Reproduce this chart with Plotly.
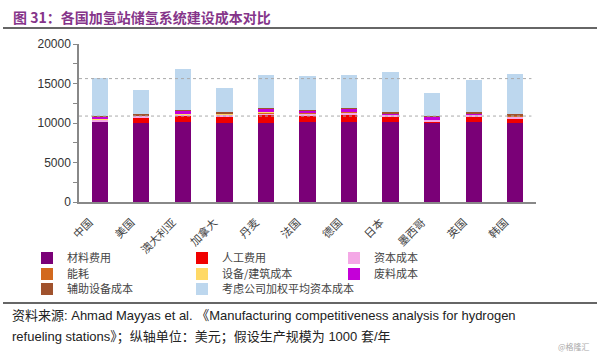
import plotly.graph_objects as go

countries = ["中国", "美国", "澳大利亚", "加拿大", "丹麦", "法国", "德国", "日本", "墨西哥", "英国", "韩国"]
material = [10180, 10000, 10180, 10000, 10000, 10180, 10180, 10180, 10100, 10180, 10000]
labor = [50, 700, 720, 850, 1100, 820, 900, 550, 80, 600, 620]
capital = [200, 200, 150, 250, 150, 250, 200, 350, 200, 300, 250]
energy = [20, 30, 40, 30, 120, 40, 150, 30, 20, 30, 30]
equipment = [10, 10, 20, 10, 20, 20, 20, 10, 10, 10, 10]
scrap = [410, 40, 500, 40, 420, 300, 400, 40, 420, 40, 40]
aux = [30, 200, 60, 220, 80, 60, 80, 220, 20, 200, 220]
wacc = [4770, 3010, 5210, 3080, 4160, 4290, 4120, 5040, 2950, 4130, 5000]
ref_lines = [15620, 10880]

series = [
    ("材料费用", material, "#7A0077"),
    ("人工费用", labor, "#F00000"),
    ("资本成本", capital, "#F4A8E6"),
    ("能耗", energy, "#D2691E"),
    ("设备/建筑成本", equipment, "#FFD966"),
    ("废料成本", scrap, "#C400D8"),
    ("辅助设备成本", aux, "#A0522D"),
    ("考虑公司加权平均资本成本", wacc, "#BDD7EE"),
]

# legend positions (px) : text-start x, row center y
leg_pos = [(65, 258), (220, 258), (372, 258),
           (65, 274), (220, 274), (372, 274),
           (65, 289), (220, 289)]

L, R, T, B = 79, 64, 44, 150
W, H = 600, 352
pw = W - L - R
ph = H - T - B

def px_x(x):
    return (x - L) / pw

def px_y(y):
    return (H - B - y) / ph

fig = go.Figure()
layout_legends = {}
for i, (name, vals, col) in enumerate(series):
    lname = "legend" if i == 0 else f"legend{i+1}"
    fig.add_trace(go.Bar(x=countries, y=vals, name=name, marker=dict(color=col, line=dict(width=0)),
                         legend=lname, showlegend=True))
    tx, ty = leg_pos[i]
    layout_legends[lname] = dict(
        x=px_x(tx - 38), y=px_y(ty), xanchor="left", yanchor="middle",
        bgcolor="rgba(0,0,0,0)", borderwidth=0,
        font=dict(family="Noto Sans CJK SC", size=11, color="#444"),
        itemwidth=30, tracegroupgap=0,
    )

for v in ref_lines:
    fig.add_shape(type="line", xref="paper", yref="y", x0=0, x1=0.99, y0=v, y1=v,
                  line=dict(color="#AAAAAA", width=1, dash="dot"))

# decorative lines
fig.add_shape(type="line", xref="paper", yref="paper", x0=px_x(3), x1=px_x(597), y0=px_y(28), y1=px_y(28),
              line=dict(color="#333333", width=1.5))
fig.add_shape(type="line", xref="paper", yref="paper", x0=px_x(3), x1=px_x(597), y0=px_y(303), y1=px_y(303),
              line=dict(color="#333333", width=1.5))

fig.add_annotation(text="<b>图 31：各国加氢站储氢系统建设成本对比</b>", xref="paper", yref="paper",
                   x=px_x(11), y=px_y(17), xanchor="left", yanchor="middle", showarrow=False,
                   font=dict(family="Noto Sans CJK SC", size=14, color="#85358A"))
fig.add_annotation(text="资料来源: Ahmad Mayyas et al. 《Manufacturing competitiveness analysis for hydrogen",
                   xref="paper", yref="paper", x=px_x(10), y=px_y(315), xanchor="left", yanchor="middle",
                   showarrow=False, font=dict(family="Liberation Sans, Noto Sans CJK SC", size=13, color="#222"))
fig.add_annotation(text="refueling stations》；纵轴单位：美元；假设生产规模为 1000 套/年",
                   xref="paper", yref="paper", x=px_x(10), y=px_y(337), xanchor="left", yanchor="middle",
                   showarrow=False, font=dict(family="Liberation Sans, Noto Sans CJK SC", size=13, color="#222"))
fig.add_annotation(text="@格隆汇", xref="paper", yref="paper", x=px_x(592), y=px_y(346),
                   xanchor="right", yanchor="middle", showarrow=False,
                   font=dict(family="Noto Sans CJK SC", size=8, color="#AAAAAA"))

fig.update_layout(
    width=W, height=H, margin=dict(l=L, r=R, t=T, b=B, pad=0),
    barmode="stack", bargap=0.61, showlegend=True,
    plot_bgcolor="white", paper_bgcolor="white",
    font=dict(family="Liberation Sans, Noto Sans CJK SC", color="#333"),
    **layout_legends,
)
fig.update_xaxes(showline=True, linecolor="#888888", linewidth=1.5, ticks="", tickangle=-45,
                 ticklabelstandoff=8, ticklabelshift=-10,
                 tickfont=dict(family="Noto Sans CJK SC", size=11, color="#444"), showgrid=False)
fig.update_yaxes(range=[0, 20000], dtick=5000, tickformat="d", showline=True, linecolor="#888888", linewidth=1.5,
                 ticks="outside", ticklen=4, tickcolor="#888888", showgrid=False, zeroline=False,
                 minor=dict(dtick=2500, ticks="outside", ticklen=4, tickcolor="#888888"),
                 tickfont=dict(family="Liberation Sans", size=12, color="#333"))

fig.write_html("out.html")
